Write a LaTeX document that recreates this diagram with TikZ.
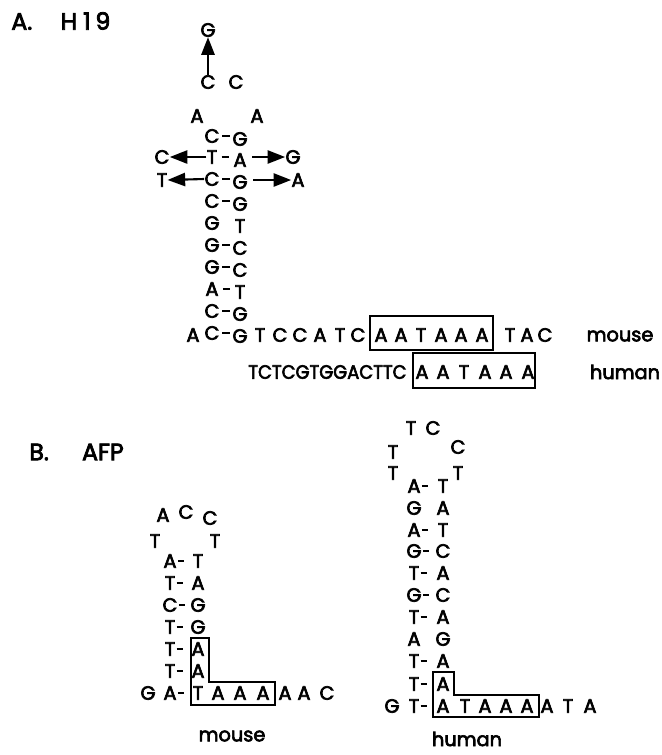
\documentclass[tikz,border=0pt]{standalone}
\usepackage{fontspec}
\setmainfont{Poppins}
\newfontfamily\nucfamily{Poppins}[FakeBold=3.2]
\usetikzlibrary{arrows.meta,calc}
\newcommand\nucfont{\nucfamily\fontsize{11}{13}\selectfont}
\newcommand\headfont{\nucfamily\fontsize{13.5}{16}\selectfont}
\tikzset{
  nt/.style={inner sep=0pt, font=\nucfont},
  head/.style={inner sep=0pt, font=\headfont, anchor=west},
  bond/.style={line width=1.4pt},
  arr/.style={line width=1.2pt, -{Triangle[length=10pt,width=7.5pt]}},
  box/.style={line width=1pt},
}
% centred pair bond of fixed length between two named bases
\newcommand\pairbond[2]{%
  \draw[bond] ($(#1.east)!0.5!(#1.east -| #2.west)+(-2.1pt,0)$)
    -- ($(#1.east)!0.5!(#1.east -| #2.west)+(2.1pt,0)$);}
% short bond hanging off the 5' base
\newcommand\leftbond[2]{%
  \draw[bond] ($(#1.east)+(0.6pt,0)$) -- ($(#1.east)+(4.2pt,0)$);}
\begin{document}
\begin{tikzpicture}[x=0.02cm, y=-0.02cm]
\useasboundingbox (0,0) rectangle (662,755);

% ---------------- A. H19 ----------------
\node[head] (titleA) at (11,21) {A.\hspace{1.2em}H\hspace{0.25em}1\hspace{0.2em}9};

% loop
\node[nt] (gtop) at (208,30) {G};
\node[nt] (c1) at (208,82) {C};
\node[nt] (c2) at (236,82) {C};
\node[nt] (a1) at (197,116) {A};
\node[nt] (a2) at (257,116) {A};
\draw[arr] (c1.north) -- (gtop.south);

% stem (right strand sits slightly lower)
\foreach \y/\l/\r/\b [count=\i] in {136/C/G/1, 157/T/A/1, 179/C/G/1, 201/C/G/1,
    223/G/T/0, 245/G/C/1, 267/G/C/1, 289/A/T/1, 311/C/G/1, 333/C/G/1} {
  \node[nt] (hL\i) at (212,\y) {\l};
  \node[nt] (hR\i) at (240,\y+3) {\r};
  \ifnum\b=1 \pairbond{hL\i}{hR\i} \fi
}

% variant bases
\node[nt] (vC) at (162,157) {C};
\node[nt] (vG) at (293,157) {G};
\node[nt] (vT) at (162,180) {T};
\node[nt] (vA) at (298,180) {A};
\draw[arr] (hL2.west) -- (vC.east);
\draw[arr] ([xshift=3pt]hR2.east |- vG) -- (vG.west);
\draw[arr] (hL3.west) -- (vT.east);
\draw[arr] ([xshift=3pt]hR3.east |- vA) -- (vA.west);

% mouse 3' sequence
\node[nt] (hA0) at (193,335) {A};
\foreach \x/\t in {260/T, 280/C, 300/C, 320/A, 340/T, 358/C,
    381/A, 401/A, 421/T, 441/A, 461/A, 482/A, 510/T, 527/A, 545/C} {
  \node[nt] (hm\x) at (\x,335) {\t};
}
\draw[box] (370,316) rectangle (493,350);
\node[nt] (lblHm) at (620,336) {mouse};

% human sequence
\node[nt, anchor=west] (hh) at (248,372) {\scalebox{0.93}[1]{TCTCGTGGACTTC}};
\foreach \x/\t in {422/A, 443/A, 464/T, 485/A, 506/A, 528/A} {
  \node[nt] (hh\x) at (\x,372) {\t};
}
\draw[box] (413,353) rectangle (535,388);
\node[nt] (lblHh) at (625,372) {human};

% ---------------- B. AFP ----------------
\node[head] (titleB) at (29,452) {B.\hspace{1.4em}AFP};

% mouse hairpin
\node[nt] (mA) at (163,515) {A};
\node[nt] (mC1) at (186,512) {C};
\node[nt] (mC2) at (210,518) {C};
\node[nt] (mT1) at (155,541) {T};
\node[nt] (mT2) at (215,541) {T};
\foreach \y/\l/\r [count=\i] in {561/A/T, 583/T/A, 605/C/G, 627/T/G,
    649/T/A, 671/T/A, 693/A/T} {
  \node[nt] (mL\i) at (170,\y) {\l};
  \node[nt] (mR\i) at (198,\y) {\r};
  \leftbond{mL\i}{mR\i}
}
\node[nt] (mG) at (148,693) {G};
\foreach \x/\t in {218/A, 240/A, 263/A, 285/A, 304/A, 327/C} {
  \node[nt] (mb\x) at (\x,693) {\t};
}
\draw[box] (191,638) -- (209,638) -- (209,682) -- (275,682) -- (275,705)
  -- (191,705) -- cycle;
\node[nt] (lblBm) at (232,736) {mouse};

% human hairpin
\node[nt] (uT1) at (411,428) {T};
\node[nt] (uC1) at (433,428) {C};
\node[nt] (uT2) at (393,452) {T};
\node[nt] (uC2) at (458,447) {C};
\node[nt] (uT3) at (393,473) {T};
\node[nt] (uT4) at (458,473) {T};
\foreach \y/\l/\r/\b [count=\i] in {486/A/T/1, 508/G/A/0, 530/A/T/1, 551/G/C/1,
    573/T/A/1, 595/G/C/1, 617/T/A/1, 639/A/G/0, 661/T/A/1, 684/T/A/1, 706/T/A/1} {
  \node[nt] (uL\i) at (414,\y) {\l};
  \node[nt] (uR\i) at (443,\y) {\r};
  \ifnum\b=1 \leftbond{uL\i}{uR\i} \fi
}
\node[nt] (uG) at (392,706) {G};
\foreach \x/\t in {465/T, 485/A, 506/A, 527/A, 547/A, 568/T, 590/A} {
  \node[nt] (ub\x) at (\x,706) {\t};
}
\draw[box] (433,672) -- (454,672) -- (454,695) -- (539,695) -- (539,717)
  -- (433,717) -- cycle;
\node[nt] (lblBh) at (467,739) {human};

\end{tikzpicture}
\end{document}
